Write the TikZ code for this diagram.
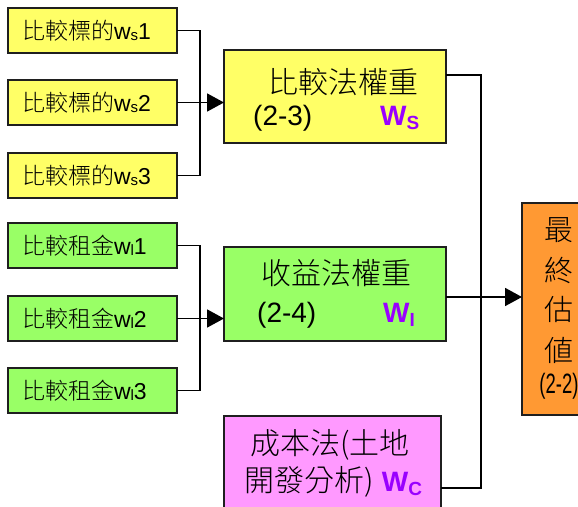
\documentclass[tikz,border=0pt]{standalone}
\usepackage{fontspec}
\setmainfont{Liberation Sans}
\newfontfamily\cjk{Noto Sans CJK TC Light}
\usetikzlibrary{arrows.meta}
\definecolor{ylw}{HTML}{FFFF66}
\definecolor{grn}{HTML}{99FF66}
\definecolor{pnk}{HTML}{FF99FF}
\definecolor{org}{HTML}{FF9933}
\definecolor{prp}{HTML}{9900FF}
\newcommand\smalltxt[3]{\fontsize{23}{23}\selectfont{\cjk #1}w\raisebox{-1.5pt}{\fontsize{15}{15}\selectfont #2}#3}
\newcommand\bigW[1]{{\bfseries\color{prp}W\raisebox{-4pt}{\fontsize{19}{19}\selectfont #1}}}
\begin{document}
\begin{tikzpicture}[x=1pt,y=-1pt,
  box/.style={draw=black!88, line width=2pt, anchor=north west, inner sep=0pt, outer sep=0pt},
  sbox/.style={box, minimum width=169pt, minimum height=45pt, inner xsep=14pt, text width=141pt, align=left},
  conn/.style={line width=1.8pt, black},
  arr/.style={conn, -{Triangle[length=17pt,width=18pt]}},
  lbl/.style={inner sep=0pt}]
\useasboundingbox (0,0) rectangle (578,506);
\clip (0,0) rectangle (578,506);

% small yellow boxes
\node[sbox, fill=ylw] (y1) at (8,8) {\smalltxt{比較標的}{s}{1}};
\node[sbox, fill=ylw] (y2) at (8,80) {\smalltxt{比較標的}{s}{2}};
\node[sbox, fill=ylw] (y3) at (8,153) {\smalltxt{比較標的}{s}{3}};

% small green boxes
\node[sbox, fill=grn] (g1) at (8,223) {\smalltxt{比較租金}{l}{1}};
\node[sbox, fill=grn] (g2) at (8,296) {\smalltxt{比較租金}{l}{2}};
\node[sbox, fill=grn] (g3) at (8,368) {\smalltxt{比較租金}{l}{3}};

% big boxes
\node[box, fill=ylw, minimum width=222pt, minimum height=93pt] (wsb) at (224,50) {};
\node[lbl] (wst) at (343,82) {\fontsize{30}{30}\selectfont\cjk 比較法權重};
\node[lbl, anchor=west] (wsn) at (253,118) {\fontsize{28}{28}\selectfont (2-3)};
\node[lbl, anchor=west] (wsw) at (380,118) {\fontsize{28}{28}\selectfont\bigW{S}};

\node[box, fill=grn, minimum width=222pt, minimum height=94pt] (wib) at (224,247) {};
\node[lbl] (wit) at (336,273) {\fontsize{30}{30}\selectfont\cjk 收益法權重};
\node[lbl, anchor=west] (win) at (257,315) {\fontsize{28}{28}\selectfont (2-4)};
\node[lbl, anchor=west] (wiw) at (383,315) {\fontsize{28}{28}\selectfont\bigW{I}};

\node[box, fill=pnk, minimum width=217pt, minimum height=110pt] (wcb) at (224,416) {};
\node[lbl] (wct) at (330,445) {\fontsize{30}{30}\selectfont\cjk 成本法(土地};
\node[lbl, anchor=west] (wcn) at (244,482) {\fontsize{30}{30}\selectfont{\cjk 開發分析)} \fontsize{28}{28}\selectfont\bigW{C}};

% final box
\node[box, fill=org, minimum width=80pt, minimum height=212pt] (fin) at (522,203) {};
\node[lbl] (f1) at (559,230) {\fontsize{29}{29}\selectfont\cjk 最};
\node[lbl] (f2) at (559,270) {\fontsize{29}{29}\selectfont\cjk 終};
\node[lbl] (f3) at (559,309) {\fontsize{29}{29}\selectfont\cjk 估};
\node[lbl] (f4) at (559,350) {\fontsize{29}{29}\selectfont\cjk 値};
\node[lbl] (f5) at (559,386) {\fontsize{28}{28}\selectfont\scalebox{0.66}[1]{(2-2)}};

% connectors
\coordinate (jy) at (200,102);
\draw[conn] (y1.east) -| (jy) |- (y3.east);
\draw[arr] (y2.east) -- (y2.east -| wsb.west);

\coordinate (jg) at (200,319);
\draw[conn] (g1.east) -| (jg) |- (g3.east);
\draw[arr] (g2.east) -- (g2.east -| wib.west);

\coordinate (bus) at (481,297);
\draw[conn] ([yshift=-25pt]wsb.north east) -| (bus);
\draw[conn] ([yshift=-72pt]wcb.north east) -| (bus);
\draw[arr] (wib.east |- bus) -- (bus -| fin.west);
\end{tikzpicture}
\end{document}
